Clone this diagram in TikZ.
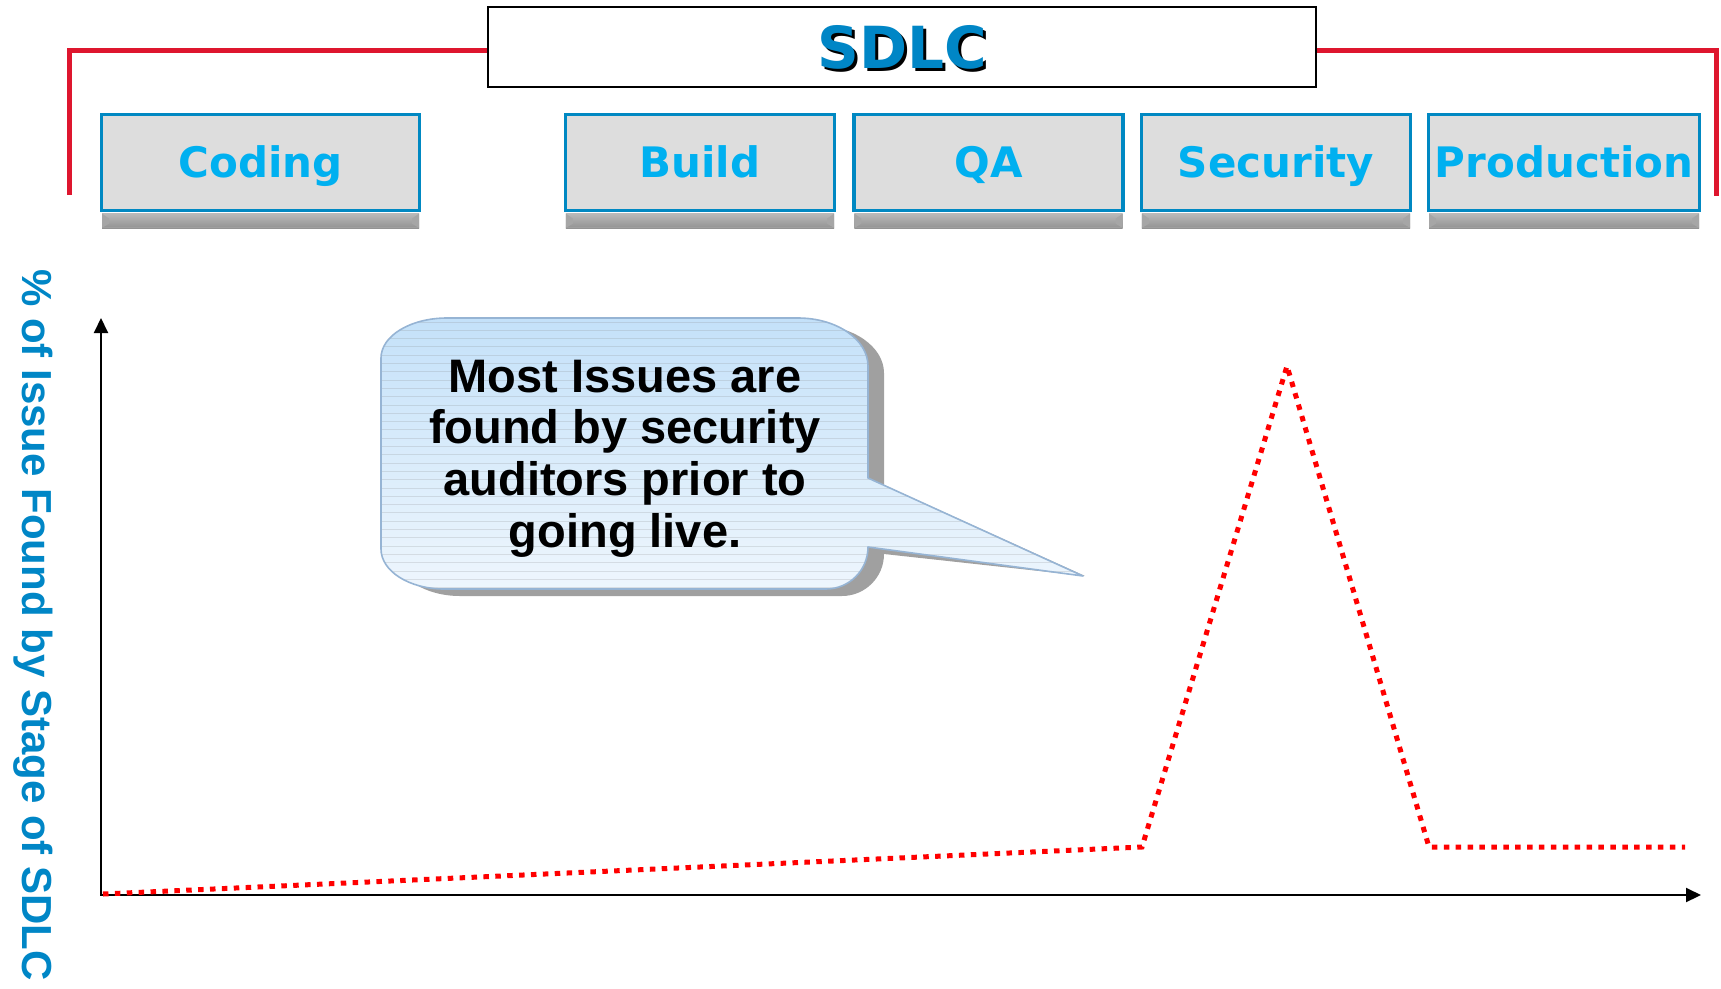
\documentclass[tikz,border=0pt]{standalone}
\usepackage{fontspec}
\setmainfont{Liberation Sans}
\newfontfamily\dejavu{DejaVu Sans}
\usetikzlibrary{arrows.meta}

\definecolor{boxblue}{RGB}{0,136,194}
\definecolor{boxfill}{RGB}{221,221,221}
\definecolor{labelcyan}{RGB}{0,176,240}
\definecolor{sdlcblue}{RGB}{0,134,198}
\definecolor{bracketred}{RGB}{222,22,46}
\definecolor{trendred}{RGB}{255,0,0}
\definecolor{bubbletop}{RGB}{196,225,249}
\definecolor{bubblebottom}{RGB}{238,246,253}
\definecolor{bubbleedge}{RGB}{150,180,212}
\definecolor{bubbleshade}{RGB}{160,160,160}

\begin{document}
\begin{tikzpicture}[x=1pt,y=-1pt,
  stagebox/.style={draw=boxblue, line width=3.3pt, fill=boxfill,
    minimum height=95.7pt, minimum width=269pt, inner sep=0pt,
    text=labelcyan, font=\fontsize{42}{48}\selectfont\dejavu\bfseries,
    text height=30.6pt, text depth=0pt},
  stagebase/.style={top color=gray!55, middle color=gray!30, bottom color=gray!85},
  titlebox/.style={draw=black, line width=2pt, fill=white,
    minimum width=828pt, minimum height=80pt, inner sep=0pt},
  titletext/.style={font=\fontsize{58}{64}\selectfont\dejavu\bfseries,
    text height=42.3pt, text depth=0pt, inner sep=0pt},
  bracket/.style={draw=bracketred, line width=5pt, line join=miter},
  axisline/.style={line width=2pt, {Triangle[length=15pt,width=14pt]}-{Triangle[length=15pt,width=14pt]}},
  trend/.style={draw=trendred, line width=5pt, dash pattern=on 5.5pt off 6.4pt},
  notetext/.style={font=\fontsize{47}{51.7}\selectfont\bfseries, align=center, inner sep=0pt},
  axislabel/.style={font=\fontsize{42}{48}\selectfont\bfseries, text=sdlcblue,
    rotate=-90, inner sep=0pt}
]
\useasboundingbox (0,0) rectangle (1721,988);

% title box with its red bracket
\node[titlebox] (sdlc) at (902,47) {};
\node[titletext, text=black] (sdlcshade) at (905,50) {SDLC};
\node[titletext, text=sdlcblue] (sdlctitle) at (902,47) {SDLC};
\coordinate (lend) at (69,195);
\coordinate (rend) at (1716,196);
\draw[bracket] ([yshift=-3pt]sdlc.west) -| (lend);
\draw[bracket] ([yshift=-3pt]sdlc.east) -| (rend);

% stage boxes
\node[stagebox, minimum width=317.7pt] (coding) at (260.5,162.5) {Coding};
\node[stagebox] (build) at (700,162.5) {Build};
\node[stagebox] (qa) at (988.5,162.5) {QA};
\node[stagebox] (security) at (1276,162.5) {Security};
\node[stagebox, minimum width=270.7pt] (production) at (1564,162.5) {Production};

% bevelled bases under the stage boxes
\foreach \b in {coding,build,qa,security,production}{
  \shade[stagebase] ([xshift=2pt,yshift=-1.6pt]\b.south west) rectangle ([xshift=-2pt,yshift=-16pt]\b.south east);
  \fill[gray!70] ([xshift=2pt,yshift=-1.6pt]\b.south west) -- ++(7,5) -- ++(0,5) -- ([xshift=2pt,yshift=-16pt]\b.south west) -- cycle;
  \fill[gray!70] ([xshift=-2pt,yshift=-1.6pt]\b.south east) -- ++(-7,5) -- ++(0,5) -- ([xshift=-2pt,yshift=-16pt]\b.south east) -- cycle;
  \draw[gray!75, line width=1pt] ([xshift=2pt,yshift=-15.5pt]\b.south west) -- ([xshift=-2pt,yshift=-15.5pt]\b.south east);
}

% vertical axis label
\node[axislabel] (ylabel) at (33,625) {\% of Issue Found by Stage of SDLC};

% axes
\coordinate (origin) at (101,895);
\coordinate (ytip) at (101,318);
\coordinate (xtip) at (1701,895);
\draw[axisline] (ytip) -- (origin) -- (xtip);

% speech bubble: outline, and its drop shadow whose tail ends at the same tip
\def\bubble{(447,318) -- (798,318)
  .. controls (836.7,318) and (868,339.5) .. (868,366)
  -- (868,478) -- (1083,576) -- (868,547)
  .. controls (868,570.2) and (849.2,589) .. (826,589)
  -- (444,589)
  .. controls (409.2,589) and (381,571.1) .. (381,549)
  -- (381,358)
  .. controls (381,335.9) and (410.5,318) .. (447,318) -- cycle}
\def\bubbleshadow{(447,318) -- (798,318)
  .. controls (836.7,318) and (868,339.5) .. (868,366)
  -- (868,478) -- (1069,569) -- (868,547)
  .. controls (868,570.2) and (849.2,589) .. (826,589)
  -- (444,589)
  .. controls (409.2,589) and (381,571.1) .. (381,549)
  -- (381,358)
  .. controls (381,335.9) and (410.5,318) .. (447,318) -- cycle}
\fill[bubbleshade, shift={(16,7)}] \bubbleshadow;
\shade[top color=bubbletop, bottom color=bubblebottom] \bubble;
\begin{scope}
  \clip \bubble;
  \foreach \yy in {322,330.3,...,596}
    \draw[gray, opacity=0.2, line width=0.9pt] (375,\yy) -- (1090,\yy);
\end{scope}
\draw[bubbleedge, line width=1.6pt, line join=round] \bubble;
\node[notetext] (note) at (625,458.6) {Most Issues are\\found by security\\auditors prior to\\going live.};

% trend of issues found
\coordinate (t0) at (103,894);
\coordinate (t1) at (1142,847);
\coordinate (t2) at (1287,366);
\coordinate (t3) at (1429,847);
\coordinate (t4) at (1685,847);
\draw[trend] (t0) -- (t1) -- (t2) -- (t3) -- (t4);
\end{tikzpicture}
\end{document}
